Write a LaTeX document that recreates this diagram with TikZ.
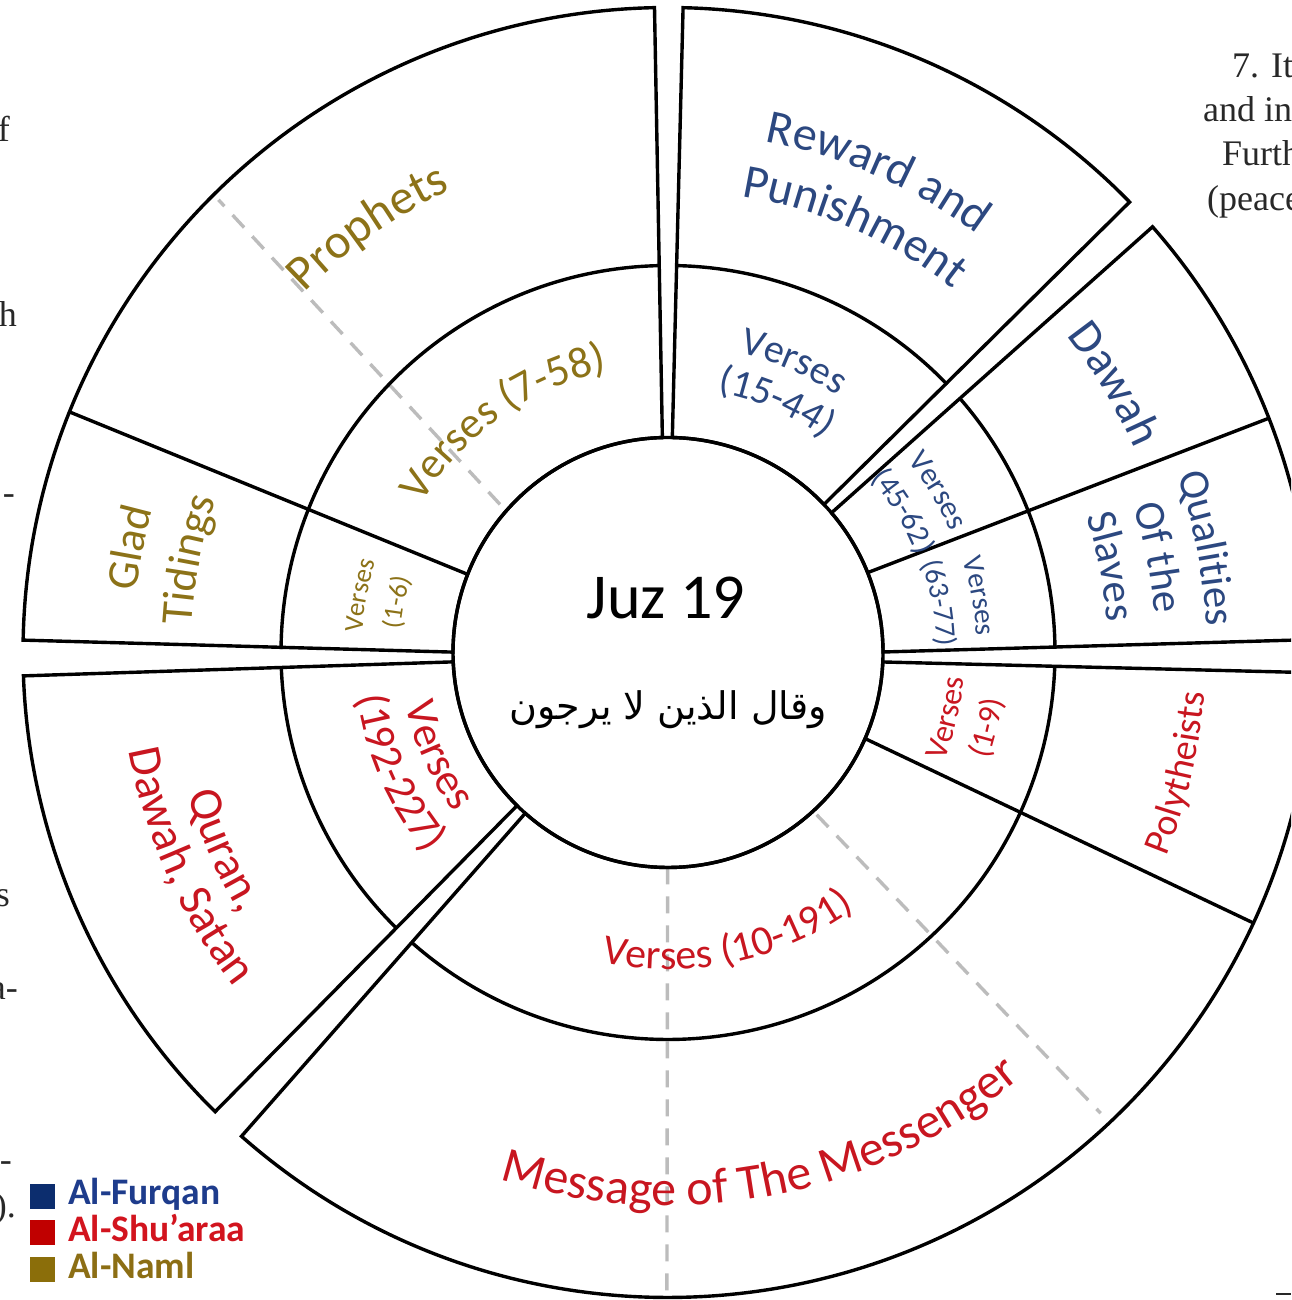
\documentclass[tikz,border=0pt]{standalone}
\usepackage{fontspec}
\setmainfont{Carlito}
\newfontfamily\arabicfont[Script=Arabic]{DejaVu Sans}
\newfontfamily\pagefont{Liberation Serif}
\TeXXeTstate=1
\usetikzlibrary{decorations.text}

\definecolor{furqan}{RGB}{44,72,128}
\definecolor{shuaraa}{RGB}{200,22,32}
\definecolor{naml}{RGB}{140,114,24}
\definecolor{furqanbox}{RGB}{12,45,110}
\definecolor{shuaraabox}{RGB}{192,0,0}
\definecolor{namlbox}{RGB}{139,110,10}
\definecolor{furqanlabel}{RGB}{30,60,140}
\definecolor{shuaraalabel}{RGB}{210,20,30}
\definecolor{namllabel}{RGB}{140,110,20}
\definecolor{guide}{RGB}{188,188,188}
\definecolor{pageink}{RGB}{40,40,40}

% ring radii
\def\rin{215pt}
\def\rmid{387pt}
\def\rout{645pt}

% one slice of the two rings: inner/outer angle of its first edge, inner/outer angle of its second edge
\newcommand\ringsector[4]{%
  \pgfmathsetmacro\angA{#1+(#2-#1)*(\rmid-\rin)/(\rout-\rin)}%
  \pgfmathsetmacro\angB{#3+(#4-#3)*(\rmid-\rin)/(\rout-\rin)}%
  \draw[outline] (#1:\rin) -- (#2:\rout) arc[start angle=#2, end angle=#4, radius=\rout]
    -- (#3:\rin) arc[start angle=#3, end angle=#1, radius=\rin] -- cycle;
  \draw[outline] (\angA:\rmid) arc[start angle=\angA, end angle=\angB, radius=\rmid];
}

% curved labels: mid angle, baseline radius, colour, size, text
\newcommand\cwtext[5]{%
  \def\arcfont{\fontsize{#4}{#4}\selectfont}%
  \path[decorate, decoration={text along path, text align=center, text color=#3,
      text={|\arcfont|#5}}]
    ({#1+80}:#2pt) arc[start angle={#1+80}, end angle={#1-80}, radius=#2pt];
}
\newcommand\ccwtext[5]{%
  \def\arcfont{\fontsize{#4}{#4}\selectfont}%
  \path[decorate, decoration={text along path, text align=center, text color=#3,
      text={|\arcfont|#5}}]
    ({#1-80}:#2pt) arc[start angle={#1-80}, end angle={#1+80}, radius=#2pt];
}

\tikzset{
  outline/.style={line width=3.4pt, draw=black, line join=miter},
  guideline/.style={line width=3.4pt, draw=guide, dash pattern=on 17pt off 12pt},
  legendsq/.style={minimum size=25pt, inner sep=0pt, draw=none},
  legendtext/.style={anchor=base west, inner sep=0pt, font=\bfseries\fontsize{37.5}{37.5}\selectfont},
  stray/.style={inner sep=0pt, text=pageink, font=\pagefont\fontsize{36}{36}\selectfont},
}

\begin{document}
\begin{tikzpicture}[x=1pt, y=1pt]
\useasboundingbox (0,0) rectangle (1291,1300);
\clip (0,0) rectangle (1291,1300);

\begin{scope}[shift={(668,647.5)}]
  % dashed guide lines
  \draw[guideline] (138.6:224pt) -- (134.8:638pt);
  \draw[guideline] (-90.1:\rin) -- (-90.1:640pt);
  \draw[guideline] (-47.5:220pt) -- (-46.8:632pt);

  % centre disc
  \draw[outline] (0,0) circle[radius=\rin];

  % slices
  \ringsector{91.5}{91.2}{179.9}{178.9}     % Al-Naml
  \ringsector{43.5}{44.3}{88.85}{88.66}     % Al-Furqan, reward
  \ringsector{0.13}{1.15}{40.5}{41.3}       % Al-Furqan, dawah and qualities
  \ringsector{-131.6}{-131.4}{-2.53}{-1.8}  % Al-Shu'araa, polytheists and message
  \ringsector{182.5}{182.08}{225.4}{225.4}  % Al-Shu'araa, quran

  % dividers inside slices
  \draw[outline] (158.7:\rin) -- (158.1:\rout);
  \draw[outline] (21.8:\rin) -- (21.3:\rout);
  \draw[outline] (-23.6:\rin) -- (-24.8:\rout);

  % Al-Naml labels
  \cwtext{169}{535}{naml}{45}{Glad}
  \cwtext{169}{477}{naml}{45}{Tidings}
  \cwtext{169.5}{306}{naml}{27}{Verses}
  \cwtext{169.5}{268}{naml}{27}{(1-6)}
  \cwtext{125.2}{511}{naml}{49}{Prophets}
  \cwtext{125.5}{288}{naml}{44}{Verses (7-58)}

  % Al-Furqan labels
  \cwtext{66.4}{520}{furqan}{48}{Reward and}
  \cwtext{66.4}{462}{furqan}{48}{Punishment}
  \cwtext{66.6}{308}{furqan}{40}{Verses}
  \cwtext{66.6}{265}{furqan}{40}{(15-44)}
  \cwtext{31}{509}{furqan}{47}{Dawah}
  \cwtext{31}{307}{furqan}{31}{Verses}
  \cwtext{31}{267}{furqan}{31}{(45-62)}
  \cwtext{11}{539}{furqan}{43}{Qualities}
  \cwtext{11}{488}{furqan}{43}{Of the}
  \cwtext{11}{440}{furqan}{43}{Slaves}
  \cwtext{10.3}{309}{furqan}{29}{Verses}
  \cwtext{10.3}{269}{furqan}{29}{(63-77)}

  % Al-Shu'araa labels
  \ccwtext{-13.3}{297}{shuaraa}{32}{Verses}
  \ccwtext{-13.3}{338}{shuaraa}{32}{(1-9)}
  \ccwtext{-13.3}{538}{shuaraa}{38}{Polytheists}
  \ccwtext{-78}{317}{shuaraa}{42}{Verses (10-191)}
  \ccwtext{-79}{553}{shuaraa}{50}{Message of The Messenger}
  \ccwtext{-156}{267}{shuaraa}{44}{Verses}
  \ccwtext{-156}{314}{shuaraa}{44}{(192-227)}
  \ccwtext{-156}{501}{shuaraa}{47}{Quran,}
  \ccwtext{-156}{548}{shuaraa}{47}{Dawah, Satan}

  % centre titles
  \node[font=\fontsize{64}{64}\selectfont, inner sep=0pt] (juz) at (-2,54.5) {Juz 19};
  \node[font=\arabicfont\fontsize{38}{38}\selectfont, inner sep=0pt] (surah) at (0,-57.5)
    {\beginR وقال الذين لا يرجون\endR};
\end{scope}

% legend
\node[legendsq, fill=furqanbox] (sqfurqan) at (42.5,103.5) {};
\node[legendsq, fill=shuaraabox] (sqshuaraa) at (42.5,67.5) {};
\node[legendsq, fill=namlbox] (sqnaml) at (42.5,30.5) {};
\node[legendtext, text=furqanlabel] (lfurqan) at (68,95) {Al-Furqan};
\node[legendtext, text=shuaraalabel] (lshuaraa) at (68,58) {Al-Shu'araa};
\node[legendtext, text=namllabel] (lnaml) at (68,21) {Al-Naml};

% neighbouring page text cut by the frame
\node[stray, anchor=base west] (r1) at (1232,1222) {7. It};
\node[stray, anchor=base west] (r2) at (1203,1178) {and in};
\node[stray, anchor=base west] (r3) at (1222,1134) {Furth};
\node[stray, anchor=base west] (r4) at (1207,1089) {(peace};
\node[stray, anchor=base east] (l1) at (10,1158) {of};
\node[stray, anchor=base east] (l2) at (17,973) {with};
\node[stray, anchor=base east] (l3) at (15,795) {-};
\node[stray, anchor=base east] (l4) at (10,393) {is};
\node[stray, anchor=base east] (l5) at (18,300) {a-};
\node[stray, anchor=base east] (l6) at (12,128) {-};
\node[stray, anchor=base east] (l7) at (16,82) {).};
\draw[line width=1.5pt, pageink] (1276,6) -- (1291,6);
\end{tikzpicture}
\end{document}
